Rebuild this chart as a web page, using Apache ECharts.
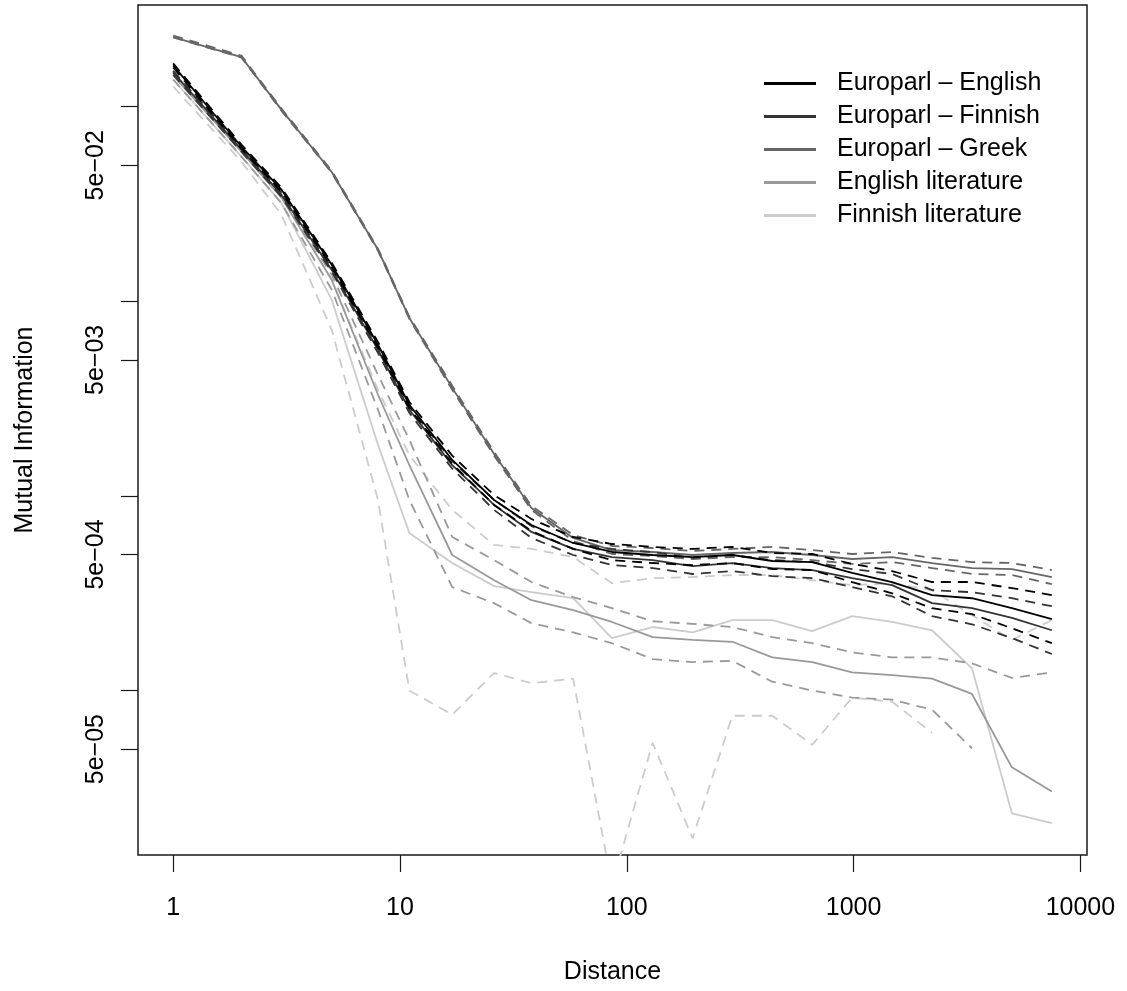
<!DOCTYPE html>
<html lang="en">
  <head>
    <meta charset="UTF-8" />
    <title>Mutual information by distance</title>
    <script src="https://cdn.jsdelivr.net/npm/echarts@6/dist/echarts.min.js"></script>
    <style>
      html, body { margin: 0; padding: 0; background: #fff; }
      #main { width: 1127px; height: 991px; }
    </style>
  </head>
  <body>
    <div id="main"></div>

    <script>
      // distances (x) shared by every curve
      const distance = [1, 2, 3, 5, 8, 11, 17, 26, 38, 58, 86, 130, 195, 292, 438, 657, 985, 1478, 2217, 3325, 4988, 7482];

      // Europarl - English, with dashed upper / lower bounds
      const epEnglish = [0.163, 0.0623, 0.0375, 0.0154, 0.00598, 0.00294, 1.53e-3, 9.53e-4, 7.09e-4, 5.73e-4, 5.15e-4, 4.97e-4, 4.85e-4, 4.97e-4, 4.63e-4, 4.57e-4, 4.02e-4, 3.61e-4, 3.09e-4, 2.98e-4, 2.65e-4, 2.33e-4];
      const epEnglishHi = [0.167, 0.0638, 0.0384, 0.0158, 0.00619, 0.00304, 1.61e-3, 1.01e-3, 7.61e-4, 6.15e-4, 5.66e-4, 5.47e-4, 5.34e-4, 5.47e-4, 5.09e-4, 5.03e-4, 4.47e-4, 4.11e-4, 3.61e-4, 3.61e-4, 3.36e-4, 3.09e-4];
      const epEnglishLo = [0.159, 0.0608, 0.0366, 0.0150, 0.00577, 0.00283, 1.46e-3, 8.99e-4, 6.60e-4, 5.34e-4, 4.68e-4, 4.52e-4, 4.41e-4, 4.52e-4, 4.21e-4, 4.16e-4, 3.61e-4, 3.16e-4, 2.65e-4, 2.47e-4, 2.09e-4, 1.75e-4];

      // Europarl - Finnish
      const epFinnish = [0.150, 0.0602, 0.0353, 0.0145, 0.00563, 0.00277, 1.44e-3, 8.99e-4, 6.53e-4, 5.34e-4, 4.85e-4, 4.68e-4, 4.36e-4, 4.52e-4, 4.26e-4, 4.16e-4, 3.78e-4, 3.48e-4, 2.81e-4, 2.65e-4, 2.36e-4, 2.04e-4];
      const epFinnishHi = [0.153, 0.0616, 0.0362, 0.0148, 0.00584, 0.00287, 1.51e-3, 9.53e-4, 7.00e-4, 5.73e-4, 5.34e-4, 5.15e-4, 4.80e-4, 4.97e-4, 4.68e-4, 4.57e-4, 4.21e-4, 3.97e-4, 3.28e-4, 3.20e-4, 2.98e-4, 2.71e-4];
      const epFinnishLo = [0.146, 0.0587, 0.0345, 0.0142, 0.00543, 0.00267, 1.38e-3, 8.47e-4, 6.08e-4, 4.97e-4, 4.41e-4, 4.26e-4, 3.97e-4, 4.11e-4, 3.87e-4, 3.78e-4, 3.40e-4, 3.05e-4, 2.41e-4, 2.19e-4, 1.86e-4, 1.54e-4];

      // Europarl - Greek
      const epGreek = [0.228, 0.180, 0.0966, 0.0462, 0.0184, 0.00821, 0.00359, 1.64e-3, 8.67e-4, 6.08e-4, 5.27e-4, 5.15e-4, 4.97e-4, 5.09e-4, 5.15e-4, 4.97e-4, 4.74e-4, 4.85e-4, 4.52e-4, 4.26e-4, 4.21e-4, 3.83e-4];
      const epGreekHi = [0.232, 0.183, 0.0978, 0.0469, 0.0186, 0.00833, 0.00368, 1.68e-3, 8.88e-4, 6.30e-4, 5.53e-4, 5.40e-4, 5.21e-4, 5.34e-4, 5.47e-4, 5.27e-4, 5.03e-4, 5.15e-4, 4.80e-4, 4.57e-4, 4.52e-4, 4.16e-4];
      const epGreekLo = [0.227, 0.179, 0.0955, 0.0458, 0.0182, 0.00813, 0.00351, 1.61e-3, 8.47e-4, 5.87e-4, 5.03e-4, 4.91e-4, 4.74e-4, 4.85e-4, 4.85e-4, 4.68e-4, 4.47e-4, 4.57e-4, 4.26e-4, 3.97e-4, 3.92e-4, 3.52e-4];

      // English literature
      const litEnglish = [0.145, 0.0587, 0.0341, 0.0129, 0.00331, 1.44e-3, 4.97e-4, 3.69e-4, 2.91e-4, 2.59e-4, 2.25e-4, 1.88e-4, 1.82e-4, 1.78e-4, 1.48e-4, 1.40e-4, 1.24e-4, 1.20e-4, 1.15e-4, 9.6e-5, 4.03e-5, 3.03e-5];
      const litEnglishHi = [0.150, 0.0602, 0.0353, 0.0137, 0.00419, 1.94e-3, 6.15e-4, 4.68e-4, 3.61e-4, 3.02e-4, 2.65e-4, 2.27e-4, 2.20e-4, 2.12e-4, 1.88e-4, 1.75e-4, 1.57e-4, 1.48e-4, 1.48e-4, 1.38e-4, 1.16e-4, 1.24e-4];
      const litEnglishLo = [0.138, 0.0554, 0.0320, 0.0115, 0.00277, 9.53e-4, 3.40e-4, 2.81e-4, 2.22e-4, 1.99e-4, 1.75e-4, 1.45e-4, 1.40e-4, 1.42e-4, 1.11e-4, 1.00e-4, 9.2e-5, 8.97e-5, 7.97e-5, 5.05e-5, null, null];

      // Finnish literature
      const litFinnish = [0.138, 0.0554, 0.0320, 0.0102, 0.00183, 6.45e-4, 4.52e-4, 3.44e-4, 3.20e-4, 2.98e-4, 1.86e-4, 2.12e-4, 1.99e-4, 2.30e-4, 2.30e-4, 2.02e-4, 2.41e-4, 2.25e-4, 2.04e-4, 1.30e-4, 2.34e-5, 2.08e-5];
      const litFinnishHi = [0.152, 0.0616, 0.0353, 0.0129, 0.00351, 1.62e-3, 8.47e-4, 5.60e-4, 5.34e-4, 4.85e-4, 3.56e-4, 3.78e-4, 3.83e-4, 3.92e-4, 3.92e-4, 3.69e-4, 3.48e-4, 3.56e-4, 3.28e-4, 2.44e-4, 1.82e-4, 2.30e-4];
      const litFinnishLo = [0.127, 0.0522, 0.0279, 0.00714, 9.53e-4, 1.00e-4, 7.51e-5, 1.23e-4, 1.09e-4, 1.15e-4, 1.0e-5, 5.39e-5, 1.74e-5, 7.42e-5, 7.42e-5, 5.26e-5, 9.2e-5, 8.76e-5, 6.07e-5, null, null, null];

      // axis ticks
      const xTicks = [1, 10, 100, 1000, 10000];
      const yTicks = [5e-5, 1e-4, 5e-4, 1e-3, 5e-3, 1e-2, 5e-2, 1e-1];
      const yLabels = [5e-5, 5e-4, 5e-3, 5e-2];

      const font = "'Liberation Sans', Arial, sans-serif";

      // drawn lightest first so the dark curves sit on top
      const groups = [
        { name: 'Finnish literature', color: '#cccccc', mid: litFinnish, hi: litFinnishHi, lo: litFinnishLo },
        { name: 'English literature', color: '#999999', mid: litEnglish, hi: litEnglishHi, lo: litEnglishLo },
        { name: 'Europarl \u2013 Greek', color: '#666666', mid: epGreek, hi: epGreekHi, lo: epGreekLo },
        { name: 'Europarl \u2013 Finnish', color: '#333333', mid: epFinnish, hi: epFinnishHi, lo: epFinnishLo },
        { name: 'Europarl \u2013 English', color: '#000000', mid: epEnglish, hi: epEnglishHi, lo: epEnglishLo },
      ];
      const legendOrder = ['Europarl \u2013 English', 'Europarl \u2013 Finnish', 'Europarl \u2013 Greek', 'English literature', 'Finnish literature'];

      function pairs(values) {
        return distance.map((d, i) => [d, values[i]]);
      }

      function lineSeries(name, color, values, dashed) {
        return {
          name: name,
          type: 'line',
          data: pairs(values),
          color: color,
          showSymbol: false,
          symbol: 'none',
          silent: true,
          clip: true,
          emphasis: { disabled: true },
          lineStyle: { color: color, width: 1.8, type: dashed ? [10, 7] : 'solid' },
        };
      }

      const series = [];
      groups.forEach((g) => {
        series.push(lineSeries(g.name, g.color, g.mid, false));
        series.push(lineSeries(g.name + ' upper', g.color, g.hi, true));
        series.push(lineSeries(g.name + ' lower', g.color, g.lo, true));
      });

      const options = {
        animation: false,
        backgroundColor: '#ffffff',
        grid: {
          left: 138,
          top: 5,
          width: 949,
          height: 850,
          show: true,
          borderColor: '#1a1a1a',
          borderWidth: 1.5,
          backgroundColor: 'transparent',
        },
        legend: {
          data: legendOrder.map((n) => ({ name: n, icon: 'rect' })),
          orient: 'vertical',
          left: 759,
          top: 66,
          itemWidth: 52,
          itemHeight: 3,
          itemGap: 8,
          selectedMode: false,
          textStyle: { fontSize: 25, fontFamily: font, color: '#000', padding: [0, 0, 0, 16] },
        },
        xAxis: {
          type: 'log',
          logBase: 10,
          min: 0.6998,
          max: 10691,
          name: 'Distance',
          nameLocation: 'middle',
          nameGap: 105,
          nameTextStyle: { fontSize: 25, fontFamily: font, color: '#000' },
          axisLine: { show: false },
          splitLine: { show: false },
          axisTick: { show: true, length: 17, customValues: xTicks, lineStyle: { color: '#1a1a1a', width: 1.2 } },
          axisLabel: {
            customValues: xTicks,
            margin: 41,
            fontSize: 25,
            fontFamily: font,
            color: '#000',
            formatter: (v) => String(Math.round(v)),
          },
        },
        yAxis: {
          type: 'log',
          logBase: 10,
          min: 1.428e-5,
          max: 0.3332,
          name: 'Mutual Information',
          nameLocation: 'middle',
          nameGap: 100,
          nameRotate: 90,
          nameTextStyle: { fontSize: 25, fontFamily: font, color: '#000' },
          axisLine: { show: false },
          splitLine: { show: false },
          axisTick: { show: true, length: 17, customValues: yTicks, lineStyle: { color: '#1a1a1a', width: 1.2 } },
          axisLabel: {
            customValues: yLabels,
            rotate: 90,
            margin: 29,
            fontSize: 25,
            fontFamily: font,
            color: '#000',
            formatter: (v) => {
              const e = Math.round(Math.log10(v / 5));
              return '5e\u2212' + String(-e).padStart(2, '0');
            },
          },
        },
        series: series,
      };

      const chart = echarts.init(document.getElementById('main'));
      chart.setOption(options);

      window.onresize = function () {
        chart.resize();
      };
    </script>
  </body>
</html>
